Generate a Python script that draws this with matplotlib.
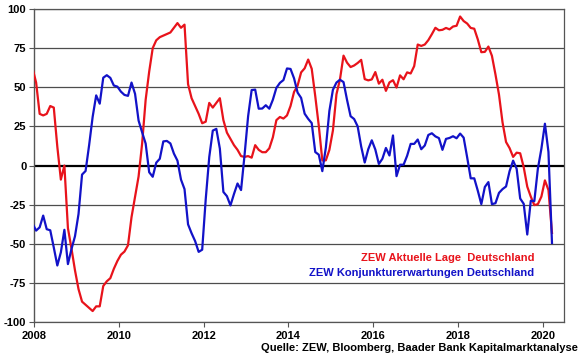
import numpy as np
import pandas as pd
import matplotlib
matplotlib.use("Agg")
import matplotlib.pyplot as plt

plt.rcParams['font.family'] = ['Liberation Sans', 'DejaVu Sans']

# Monthly series, Dec 2007 .. Mar 2020
start_month = "2007-12"
end_month = "2020-03"

lage = [62,
        53, 33, 32, 33, 38, 37, 12, -9, 0, -40, -53, -67,
        -79, -87, -89, -91, -93, -90, -90, -77, -74, -72, -66, -61,
        -57, -55, -51, -33, -20, -7, 14, 42, 60, 75, 80, 82,
        83, 84, 85, 88, 91, 88, 90, 52, 43, 38, 33, 27,
        28, 40, 37, 40, 43, 29, 21, 17, 13, 10, 6, 5.5,
        6, 5, 13, 10, 8.5, 8.5, 11, 18, 29, 31, 30, 32,
        38, 47, 51, 59.5, 62.1, 67.7, 61.8, 44.3, 25.4, 3.2, 3.3, 10.0,
        22.4, 45.5, 55.1, 70.2, 65.7, 62.9, 63.9, 65.5, 67.5, 55.2, 54.4, 55.0,
        59.7, 52.3, 54.8, 47.7, 53.1, 54.5, 49.8, 57.6, 55.1, 59.5, 58.8, 63.5,
        77.3, 76.4, 77.3, 80.1, 83.9, 88.0, 86.4, 86.7, 87.9, 87.0, 88.8, 89.3,
        95.2, 92.3, 90.7, 87.9, 87.4, 80.6, 72.4, 72.6, 76.0, 70.1, 58.2, 45.3,
        27.6, 15.0, 11.1, 5.5, 8.2, 7.8, -1.1, -13.5, -19.9, -25.3, -24.7, -19.9,
        -9.5, -15.7, -43.1]

erwartungen = [-37.2,
        -41.6, -39.5, -32.0, -40.7, -41.4, -52.4, -63.9, -55.5, -41.1, -63.0, -53.5, -45.2,
        -31.0, -5.8, -3.5, 13.0, 31.1, 44.8, 39.5, 56.1, 57.7, 56.0, 51.1, 50.4,
        47.2, 45.1, 44.5, 53.0, 45.8, 28.7, 21.2, 14.0, -4.3, -7.2, 1.8, 4.3,
        15.4, 15.7, 14.1, 7.6, 3.1, -9.0, -15.1, -37.6, -43.3, -48.3, -55.2, -53.8,
        -21.6, 5.4, 22.3, 23.4, 10.8, -16.9, -19.6, -25.5, -18.2, -11.5, -15.7, 6.9,
        31.5, 48.2, 48.5, 36.3, 36.4, 38.5, 36.3, 42.0, 49.6, 52.8, 54.6, 62.0,
        61.7, 55.7, 46.6, 43.2, 33.1, 29.8, 27.1, 8.6, 6.9, -3.6, 11.5, 34.9,
        48.4, 53.0, 54.8, 53.3, 41.9, 31.5, 29.7, 25.0, 12.1, 1.9, 10.4, 16.1,
        10.2, 1.0, 4.3, 11.2, 6.4, 19.2, -6.8, 0.5, 0.5, 6.2, 13.8, 13.8,
        16.6, 10.4, 12.8, 19.5, 20.6, 18.6, 17.5, 10.0, 17.0, 17.6, 18.7, 17.4,
        20.4, 17.8, 5.1, -8.2, -8.2, -16.1, -24.7, -13.7, -10.6, -24.7, -24.1, -17.5,
        -15.1, -13.4, -3.6, 3.1, -2.1, -21.1, -24.5, -44.1, -22.5, -22.8, -2.1, 10.7,
        26.7, 8.7, -49.5]

label_lage = "ZEW Aktuelle Lage  Deutschland"
label_erw = "ZEW Konjunkturerwartungen Deutschland"
source = "Quelle: ZEW, Bloomberg, Baader Bank Kapitalmarktanalyse"
x_ticks = [2008, 2010, 2012, 2014, 2016, 2018, 2020]
y_ticks = [-100, -75, -50, -25, 0, 25, 50, 75, 100]

dates = pd.period_range(start_month, end_month, freq="M")
# data are released mid-month
x = dates.year + (dates.month - 1 + 0.6) / 12.0

W, H = 580, 359
fig = plt.figure(figsize=(W / 100, H / 100), dpi=100)
ax = fig.add_axes([34 / W, (H - 322) / H, 530 / W, 313 / H])

for yv in y_ticks:
    if yv == 0:
        ax.axhline(yv, color="black", lw=1.6, zorder=1)
    else:
        ax.axhline(yv, color="#4d4d4d", lw=0.9, zorder=1)

ax.plot(x, lage, color="#e8131b", lw=1.6, zorder=3, solid_joinstyle="round")
ax.plot(x, erwartungen, color="#1212c8", lw=1.6, zorder=3, solid_joinstyle="round")

ax.set_xlim(2008, 2020.5)
ax.set_ylim(-100, 100)
ax.set_xticks(x_ticks)
ax.set_yticks(y_ticks)
ax.set_xticklabels([str(t) for t in x_ticks], fontsize=8, fontweight="bold")
ax.set_yticklabels([str(t) for t in y_ticks], fontsize=8, fontweight="bold")
ax.tick_params(axis="both", direction="out", length=3.5, width=0.8, color="#555555", pad=2)
ax.tick_params(axis="x", pad=3)

for side in ["top", "right", "bottom"]:
    ax.spines[side].set_color("#555555")
    ax.spines[side].set_linewidth(0.9)
ax.spines["left"].set_color("#555555")
ax.spines["left"].set_linewidth(1.0)

ax.text(2019.8, -59, label_lage, color="#e8131b", fontsize=8, fontweight="bold",
        ha="right", va="center", zorder=4)
ax.text(2019.8, -68.5, label_erw, color="#1212c8", fontsize=8, fontweight="bold",
        ha="right", va="center", zorder=4)

fig.text(578 / W, 1 - 348 / H, source, fontsize=8, fontweight="bold",
         ha="right", va="center", color="black")

fig.savefig("out.png", dpi=100, facecolor="white")
